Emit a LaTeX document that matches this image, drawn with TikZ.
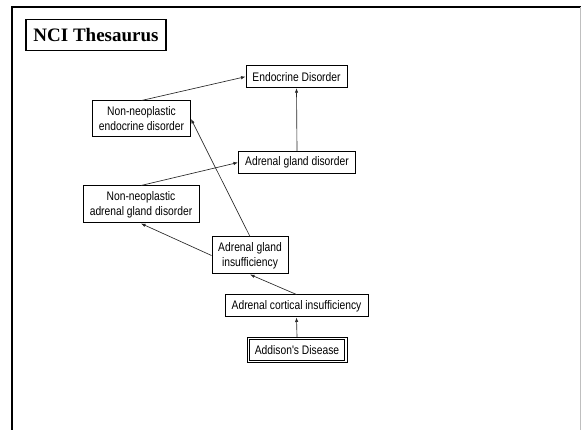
\documentclass[tikz,border=0pt]{standalone}
\usepackage{fontspec}
\usetikzlibrary{arrows.meta}
\newfontfamily\boxfont[FakeStretch=0.83]{Liberation Sans}
\newfontfamily\titlefont{Liberation Serif}
\begin{document}
\begin{tikzpicture}[x=1pt,y=-1pt,
  concept/.style={draw=black, line width=1pt, fill=white, inner sep=0pt,
    align=center, font=\boxfont\fontsize{12.4}{15}\selectfont},
  isa/.style={-{Latex[length=4.5pt,width=3.4pt]}, line width=0.65pt, draw=black!85},
]
\useasboundingbox (0,0) rectangle (581,430);

% slide frame
\draw[line width=2pt] (12,430) -- (12,7) -- (581,7);
\draw[black!25, line width=0.8pt] (580,7) -- (580,430);

% title
\node[draw, line width=1.3pt, minimum width=140pt, minimum height=31pt, inner sep=0pt,
  font=\titlefont\bfseries\fontsize{19}{22}\selectfont] (title) at (96,35) {NCI Thesaurus};

% concepts
\node[concept, minimum width=101pt, minimum height=22pt] (endo) at (296.5,76.7) {Endocrine Disorder};
\node[concept, minimum width=98pt, minimum height=36pt] (nne) at (141.5,119) {Non-neoplastic\\endocrine disorder};
\node[concept, minimum width=117pt, minimum height=22pt] (agd) at (297,162.5) {Adrenal gland disorder};
\node[concept, minimum width=116pt, minimum height=37pt] (nnag) at (141,204.5) {Non-neoplastic\\adrenal gland disorder};
\node[concept, minimum width=76pt, minimum height=37pt] (agi) at (250,255.5) {Adrenal gland\\insufficiency};
\node[concept, minimum width=143pt, minimum height=22pt] (aci) at (296.5,306) {Adrenal cortical insufficiency};
\node[concept, line width=0.8pt, minimum width=100pt, minimum height=25pt] (add) at (297,349.7) {Addison's Disease};
% inner rule of the double border
\draw[line width=0.8pt] ([shift={(2.6pt,-2.6pt)}]add.north west) rectangle ([shift={(-2.6pt,2.6pt)}]add.south east);

% is-a links
\draw[isa] (nne.north) -- (endo.west);
\draw[isa] (agd.north) -- (endo.south);
\draw[isa] (nnag.north) -- (agd.west);
\draw[isa] (agi.north) -- (nne.east);
\draw[isa] (agi.west) -- (nnag.south);
\draw[isa] (aci.north) -- (agi.south);
\draw[isa] (add.north) -- (aci.south);
\end{tikzpicture}
\end{document}
